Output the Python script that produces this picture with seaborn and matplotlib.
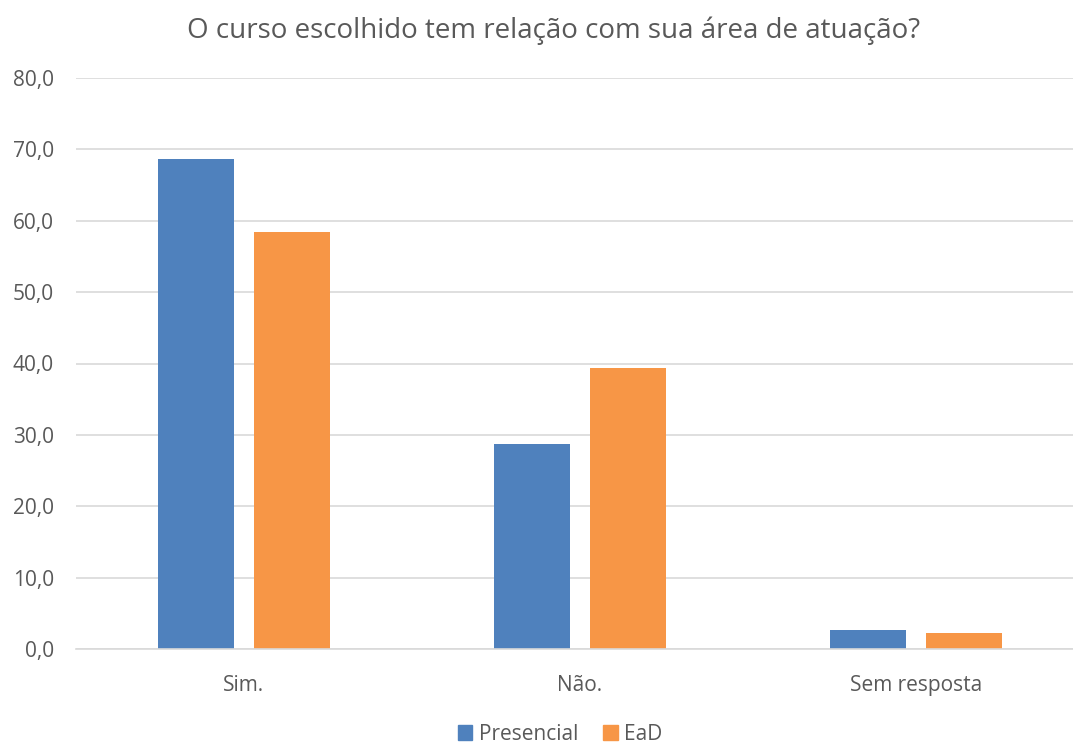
import pandas as pd
import matplotlib.pyplot as plt
import seaborn as sns
from matplotlib.patches import Patch

# data
categorias = ['Sim.', 'Não.', 'Sem resposta']
presencial = [68.6, 28.7, 2.6]
ead = [58.4, 39.4, 2.2]
series = ['Presencial', 'EaD']
cores = ['#4F81BD', '#F79646']

df = pd.DataFrame({
    'categoria': categorias * 2,
    'valor': presencial + ead,
    'serie': [series[0]] * 3 + [series[1]] * 3,
})

sns.set_style('white')
plt.rcParams['font.family'] = ['Open Sans', 'DejaVu Sans']

fig = plt.figure(figsize=(10.73, 7.43), dpi=100)
ax = fig.add_axes([76 / 1073, 94 / 743, 1008 / 1073, 571 / 743])

sns.barplot(data=df, x='categoria', y='valor', hue='serie', order=categorias,
            hue_order=series, palette=cores, width=0.571, gap=0.21,
            saturation=1, legend=False, linewidth=0, ax=ax)

ax.set_xlim(-0.5, 2.5)
ax.set_ylim(0, 80)
ax.set_yticks(range(0, 81, 10))
ax.set_yticklabels([f'{v:.1f}'.replace('.', ',') for v in range(0, 81, 10)])
ax.yaxis.grid(True, color='#D9D9D9', linewidth=1.2)
ax.set_axisbelow(True)
for s in ['top', 'right', 'left']:
    ax.spines[s].set_visible(False)
ax.spines['bottom'].set_color('#D9D9D9')
ax.spines['bottom'].set_linewidth(1.2)
ax.tick_params(axis='both', length=0, labelsize=15, colors='#595959')
ax.tick_params(axis='y', pad=16)
ax.tick_params(axis='x', pad=18.5)
ax.set_xlabel('')
ax.set_ylabel('')

fig.text(554 / 1073, 1 - 31 / 743, 'O curso escolhido tem relação com sua área de atuação?',
         ha='center', va='center', fontsize=20, color='#595959')

handles = [Patch(color=c, label=s) for c, s in zip(cores, series)]
fig.legend(handles=handles, loc='center', bbox_to_anchor=(560 / 1073, 1 - 734 / 743),
           ncol=2, frameon=False, fontsize=15, labelcolor='#595959',
           handlelength=0.7, handleheight=0.7, handletextpad=0.3, columnspacing=1.2)

fig.savefig('out.png', dpi=100)
